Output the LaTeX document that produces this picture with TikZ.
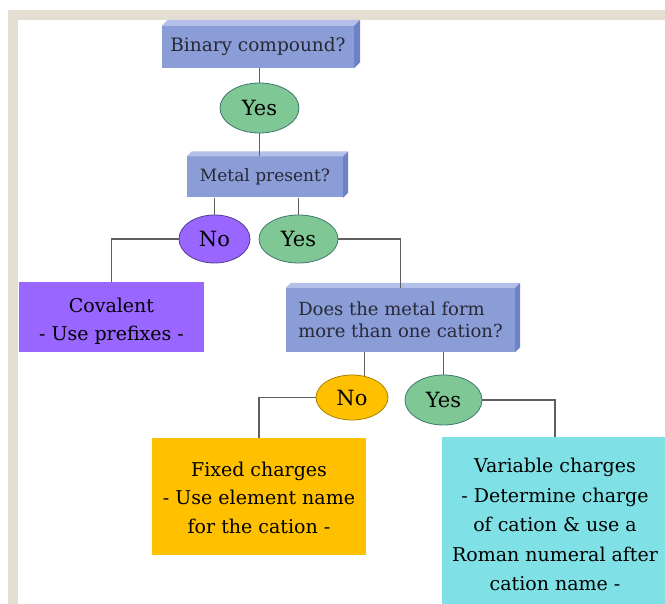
\documentclass[tikz,border=0pt]{standalone}
\usepackage{fontspec}
\newfontfamily\serifschrift{DejaVu Serif}
\usetikzlibrary{calc,shapes.geometric,positioning}
\definecolor{rahmen}{RGB}{227,221,210}
\definecolor{linie}{RGB}{95,95,95}
\definecolor{kasten}{RGB}{138,157,214}
\definecolor{kastenoben}{RGB}{180,192,234}
\definecolor{kastenseite}{RGB}{108,130,198}
\definecolor{kastentext}{RGB}{40,40,55}
\definecolor{gruen}{RGB}{128,199,150}
\definecolor{gruenrand}{RGB}{60,120,110}
\definecolor{lila}{RGB}{153,102,255}
\definecolor{lilarand}{RGB}{80,60,150}
\definecolor{orange}{RGB}{255,192,0}
\definecolor{orangerand}{RGB}{170,130,0}
\definecolor{tuerkis}{RGB}{127,225,230}
\tikzset{
  every picture/.style={line cap=butt, line join=miter},
  every node/.style={font=\serifschrift},
  % Verbindungen
  con/.style={linie, line width=1.4pt},
  % Fragen: blaue Quader
  frage/.style={rectangle, fill=kasten, text=kastentext, inner sep=0pt,
    font=\serifschrift\fontsize{18.5}{20}\selectfont},
  % Antworten: Ellipsen
  antwort/.style={ellipse, fill=#1, draw=#1rand, line width=0.8pt, inner sep=0pt,
    font=\serifschrift\fontsize{21}{22}\selectfont},
  antwort/.default=gruen,
  % Ergebnisse: Flaeche und Text
  ergebnis/.style={rectangle, fill=#1, inner sep=0pt},
  erg text/.style={inner sep=0pt, align=center, anchor=north,
    font=\serifschrift\fontsize{19}{#1}\selectfont},
  erg text/.default=28.5,
}
% Quader-Kanten oben und rechts
\newcommand{\kanten}[2]{%
  \fill[kastenoben] (#1.north west) -- ++(#2,#2) -- ($(#1.north east)+(#2,#2)$) -- (#1.north east) -- cycle;
  \fill[kastenseite] (#1.north east) -- ++(#2,#2) -- ($(#1.south east)+(#2,#2)$) -- (#1.south east) -- cycle;}

\begin{document}
\begin{tikzpicture}[x=1pt, y=-1pt]
  \useasboundingbox (0,0) rectangle (665,604);
  % Hintergrund
  \fill[white] (0,0) rectangle (665,604);
  \fill[rahmen] (8,10) rectangle (665,20);
  \fill[rahmen] (8,10) rectangle (18,604);
  % Fragen
  \node[frage, minimum width=192pt, minimum height=42pt] (bin) at (258,47) {Binary compound?};
  \kanten{bin}{6pt}
  \node[frage, minimum width=156pt, minimum height=41pt, font=\serifschrift\fontsize{17}{20}\selectfont]
    (metal) at (265,177) {Metal present?};
  \kanten{metal}{5pt}
  \node[frage, minimum width=229pt, minimum height=64pt, align=left,
    font=\serifschrift\fontsize{18}{22}\selectfont] (does) at (400.5,320) {Does the metal form\\more than one cation?};
  \kanten{does}{5pt}
  % Antworten
  \node[antwort, minimum width=79pt, minimum height=50pt] (yes1) at (259.5,108) {Yes};
  \node[antwort=lila, minimum width=71pt, minimum height=48pt] (no2) at (214.5,239) {No};
  \node[antwort, minimum width=79pt, minimum height=48pt] (yes2) at (298.5,239) {Yes};
  \node[antwort=orange, minimum width=72pt, minimum height=45pt] (no3) at (352,397.5) {No};
  \node[antwort, minimum width=77pt, minimum height=50pt] (yes3) at (443.5,400) {Yes};
  % Ergebnisse
  \node[ergebnis=lila, minimum width=185pt, minimum height=70pt] (cov) at (111.5,317) {};
  \node[erg text] (covtext) at (111.5,297.5) {Covalent\\- Use prefixes -};
  \node[ergebnis=orange, minimum width=214pt, minimum height=117pt] (fix) at (259,496.5) {};
  \node[erg text] (fixtext) at (259,461.5) {Fixed charges\\- Use element name\\for the cation -};
  \node[ergebnis=tuerkis, minimum width=226pt, minimum height=175pt, anchor=north] (var) at (555,437) {};
  \node[erg text=29.5] (vartext) at (555,458)
    {Variable charges\\- Determine charge\\of cation \& use a\\Roman numeral after\\cation name -};
  % Verbindungen
  \draw[con] (yes1.north |- bin.south) -- (yes1.north);
  \draw[con] (yes1.south) -- (yes1.south |- metal.north);
  \draw[con] (no2.north |- metal.south) -- (no2.north);
  \draw[con] (yes2.north |- metal.south) -- (yes2.north);
  \draw[con] (no2.west) -| (cov.north);
  \draw[con] (yes2.east) -| (does.north);
  \draw[con] (no3.60 |- does.south) -- (no3.60);
  \draw[con] (yes3.north |- does.south) -- (yes3.north);
  \draw[con] (no3.west) -| (fix.north);
  \draw[con] (yes3.east) -| (var.north);
\end{tikzpicture}
\end{document}
